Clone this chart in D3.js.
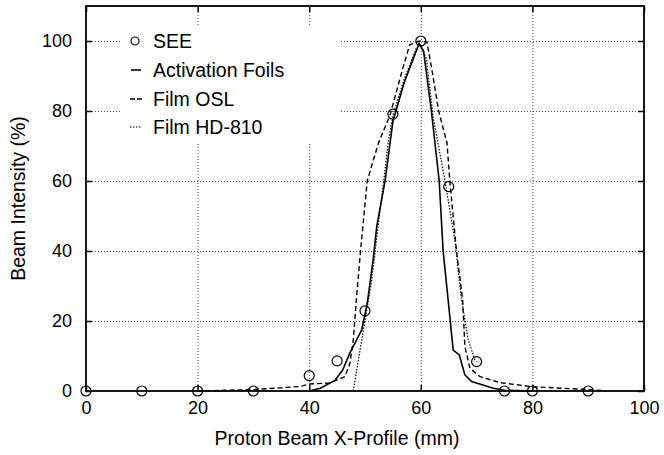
<!DOCTYPE html>
<html>
<head>
<meta charset="utf-8">
<script src="https://cdn.jsdelivr.net/npm/d3@7"></script>
<style>
    body { margin: 0; background: #fff; }
    text { font-family: "Liberation Sans", Arial, sans-serif; fill: #000; }
</style>
</head>
<body>
<div id="chart"></div>
<script>

// SEE measurements (circles)
let seeX = [0, 10, 20, 30, 40, 45, 50, 55, 60, 65, 70, 75, 80, 90];
let seeY = [0, 0, 0, 0, 4.4, 8.6, 22.9, 79.1, 100, 58.4, 8.4, 0, 0, 0];

// Activation Foils (solid)
let foilX = [40, 42, 44.6, 46, 47.3, 49.4, 50.4, 51.5, 52.1, 53.6, 55, 57, 59.7, 60.5, 61.9, 63.3, 64, 64.9, 65.8, 66.9, 67.9, 69.1, 73, 75, 80];
let foilY = [0, 0.8, 3, 6, 10.9, 17.4, 25, 38, 47, 60, 77, 88, 99.3, 97, 80, 60, 40, 26, 11.7, 10.3, 4.6, 2.7, 0.8, 0.2, 0];

// Film OSL (dashed)
let oslX = [20, 25, 30, 34.8, 38.4, 40, 43.7, 46.4, 47.3, 47.9, 48.5, 49.2, 50.4, 51.5, 52.4, 54.5, 56.6, 58, 59.7, 61.1, 62, 63.2, 64.7, 65.2, 66.4, 67.5, 67.9, 68.8, 70.6, 74.2, 80.2, 89.1, 93];
let oslY = [0, 0.2, 0.4, 0.9, 1.3, 2, 2.3, 4.1, 7.9, 14.6, 27, 40, 60, 66, 70.8, 78.9, 91.2, 98.9, 100, 99.7, 91.7, 80, 70.8, 60, 40, 26, 12.7, 6.5, 4.1, 2.4, 1.2, 0.5, 0.1];

// Film HD-810 (dotted)
let hdX = [47.9, 51.2, 52.7, 53.3, 54.2, 55.1, 57, 59.2, 60, 61, 62.2, 64.3, 66.1, 67.3, 68.5, 69.7, 70];
let hdY = [0, 31.7, 51.7, 59.3, 71.7, 79.3, 89, 98, 99, 95, 78.4, 60.3, 43.1, 26, 14.6, 8.9, 8.4];

let xTicks = [0, 20, 40, 60, 80, 100];
let yTicks = [0, 20, 40, 60, 80, 100];

let legendItems = ["SEE", "Activation Foils", "Film OSL", "Film HD-810"];

let width = 664, height = 455;
let margin = {left: 86, right: 20, top: 6, bottom: 64};

let svg = d3.select("#chart").append("svg")
    .attr("width", width)
    .attr("height", height);

let x = d3.scaleLinear()
    .domain([0, 100])
    .range([margin.left, width - margin.right]);

let y = d3.scaleLinear()
    .domain([0, 110])
    .range([height - margin.bottom, margin.top]);

let x0 = x(0), x1 = x(100), y0 = y(0), y1 = y(110);

// grid
let grid = svg.append("g").attr("class", "grid")
    .attr("stroke", "#444")
    .attr("stroke-width", 1)
    .attr("stroke-dasharray", "1,2");

grid.selectAll(".vgrid")
    .data(xTicks.filter(d => d > 0 && d < 100))
    .enter().append("line")
    .attr("x1", d => x(d) + 0.5).attr("x2", d => x(d) + 0.5)
    .attr("y1", y1).attr("y2", y0);

grid.selectAll(".hgrid")
    .data(yTicks.filter(d => d > 0))
    .enter().append("line")
    .attr("x1", x0).attr("x2", x1)
    .attr("y1", d => y(d) + 0.5).attr("y2", d => y(d) + 0.5);

// legend background hides the grid underneath
svg.append("rect")
    .attr("x", 122).attr("y", 27)
    .attr("width", 218).attr("height", 116)
    .attr("fill", "#fff");

// axes with inward ticks
let xAxis = d3.axisBottom(x).tickValues(xTicks).tickSize(-6).tickPadding(10);
let yAxis = d3.axisLeft(y).tickValues(yTicks).tickSize(-6).tickPadding(14);

svg.append("g")
    .attr("transform", "translate(0," + y0 + ")")
    .call(xAxis)
    .call(g => g.select(".domain").remove())
    .call(g => g.selectAll("text").style("font-size", "18px").style("font-family", "'Liberation Sans', Arial, sans-serif"));

svg.append("g")
    .attr("transform", "translate(" + x0 + ",0)")
    .call(yAxis)
    .call(g => g.select(".domain").remove())
    .call(g => g.selectAll("text").style("font-size", "18px").style("font-family", "'Liberation Sans', Arial, sans-serif"));

svg.append("g")
    .attr("transform", "translate(0," + y1 + ")")
    .call(d3.axisTop(x).tickValues(xTicks).tickSize(-6).tickFormat(""))
    .call(g => g.select(".domain").remove());

svg.append("g")
    .attr("transform", "translate(" + x1 + ",0)")
    .call(d3.axisRight(y).tickValues(yTicks).tickSize(-6).tickFormat(""))
    .call(g => g.select(".domain").remove());

svg.selectAll(".tick line").attr("stroke", "#000").attr("stroke-width", 1.5);

// frame
svg.append("rect")
    .attr("x", x0).attr("y", y1)
    .attr("width", x1 - x0).attr("height", y0 - y1)
    .attr("fill", "none")
    .attr("stroke", "#000")
    .attr("stroke-width", 1.8);

// curves
let line = d3.line()
    .x(d => x(d[0]))
    .y(d => y(d[1]));

let zip = (a, b) => a.map((v, i) => [v, b[i]]);

svg.append("path")
    .datum(zip(oslX, oslY))
    .attr("d", line)
    .attr("fill", "none")
    .attr("stroke", "#000")
    .attr("stroke-width", 1.4)
    .attr("stroke-dasharray", "5,3");

svg.append("path")
    .datum(zip(hdX, hdY))
    .attr("d", line)
    .attr("fill", "none")
    .attr("stroke", "#000")
    .attr("stroke-width", 1.2)
    .attr("stroke-dasharray", "1.5,1.5");

svg.append("path")
    .datum(zip(foilX, foilY))
    .attr("d", line)
    .attr("fill", "none")
    .attr("stroke", "#000")
    .attr("stroke-width", 1.6);

svg.selectAll(".see")
    .data(zip(seeX, seeY))
    .enter().append("circle")
    .attr("class", "see")
    .attr("cx", d => x(d[0]))
    .attr("cy", d => y(d[1]))
    .attr("r", 5)
    .attr("fill", "none")
    .attr("stroke", "#000")
    .attr("stroke-width", 1.2);

// legend
let legend = svg.append("g");
let rowY = [41, 70, 99, 127];

legend.append("circle")
    .attr("cx", 135).attr("cy", rowY[0]).attr("r", 4)
    .attr("fill", "none").attr("stroke", "#000").attr("stroke-width", 1.2);

legend.append("line")
    .attr("x1", 131).attr("x2", 141).attr("y1", rowY[1]).attr("y2", rowY[1])
    .attr("stroke", "#000").attr("stroke-width", 1.6);

legend.append("line")
    .attr("x1", 130).attr("x2", 142).attr("y1", rowY[2]).attr("y2", rowY[2])
    .attr("stroke", "#000").attr("stroke-width", 1.4).attr("stroke-dasharray", "5,2");

legend.append("line")
    .attr("x1", 130).attr("x2", 142).attr("y1", rowY[3]).attr("y2", rowY[3])
    .attr("stroke", "#000").attr("stroke-width", 1.2).attr("stroke-dasharray", "1.5,1.5");

legend.selectAll(".ltext")
    .data(legendItems)
    .enter().append("text")
    .attr("x", 153)
    .attr("y", (d, i) => rowY[i])
    .attr("dy", "0.35em")
    .style("font-size", "19.5px")
    .text(d => d);

// axis titles
svg.append("text")
    .attr("x", 337)
    .attr("y", 445)
    .attr("text-anchor", "middle")
    .style("font-size", "19.5px")
    .text("Proton Beam X-Profile (mm)");

svg.append("text")
    .attr("transform", "translate(25," + ((y0 + y1) / 2) + ") rotate(-90)")
    .attr("text-anchor", "middle")
    .style("font-size", "19.5px")
    .text("Beam Intensity (%)");

</script>
</body>
</html>
